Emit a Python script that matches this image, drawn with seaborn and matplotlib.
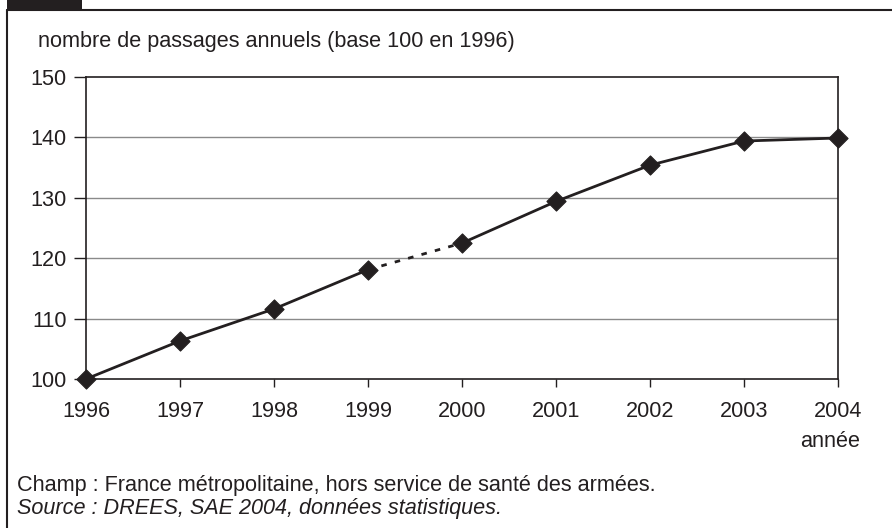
import matplotlib
matplotlib.use("Agg")
import matplotlib.pyplot as plt
from matplotlib.lines import Line2D
from matplotlib.patches import Rectangle
import seaborn as sns
import pandas as pd

years = [1996, 1997, 1998, 1999, 2000, 2001, 2002, 2003, 2004]
values = [100.0, 106.3, 111.6, 118.1, 122.5, 129.4, 135.4, 139.4, 139.9]
gap_years = [1999, 2000]  # segment drawn dashed
y_ticks = [100, 110, 120, 130, 140, 150]

title_text = "nombre de passages annuels (base 100 en 1996)"
xlabel_text = "année"
note1 = "Champ : France métropolitaine, hors service de santé des armées."
note2 = "Source : DREES, SAE 2004, données statistiques."

sns.set_theme(style="white")
plt.rcParams["font.family"] = ["Liberation Sans", "DejaVu Sans"]
ink = "#231f20"
fs = 15.6

df = pd.DataFrame({"annee": years, "valeur": values})
seg1 = df[df["annee"] <= gap_years[0]]
seg2 = df[df["annee"].isin(gap_years)]
seg3 = df[df["annee"] >= gap_years[1]]

fig = plt.figure(figsize=(8.92, 5.28), dpi=100)
ax = fig.add_axes([86 / 892, 1 - 379 / 528, (838 - 86) / 892, (379 - 77) / 528])

for y in y_ticks[1:-1]:
    ax.axhline(y, color="#8a8a8a", lw=1.0, zorder=0)

sns.lineplot(data=seg1, x="annee", y="valeur", ax=ax, color=ink, lw=2.0, zorder=3)
sns.lineplot(data=seg2, x="annee", y="valeur", ax=ax, color=ink, lw=2.0,
             linestyle=(0, (2.0, 3.0)), zorder=3)
sns.lineplot(data=seg3, x="annee", y="valeur", ax=ax, color=ink, lw=2.0, zorder=3)
sns.scatterplot(data=df, x="annee", y="valeur", ax=ax, marker="D", s=95,
                color=ink, edgecolor=ink, linewidth=0.8, zorder=4, clip_on=False)

ax.set_xlim(years[0], years[-1])
ax.set_ylim(y_ticks[0], y_ticks[-1])
ax.set_xticks(years)
ax.set_xticklabels([str(y) for y in years])
ax.set_yticks(y_ticks)
ax.set_xlabel("")
ax.set_ylabel("")

for side in ["left", "bottom", "top", "right"]:
    ax.spines[side].set_visible(True)
    ax.spines[side].set_color(ink)
    ax.spines[side].set_linewidth(1.2)

ax.tick_params(axis="x", direction="out", length=6, width=1, color=ink,
               pad=10, labelsize=fs, labelcolor=ink, bottom=True)
ax.tick_params(axis="y", direction="out", length=9, width=1, color=ink,
               pad=5, labelsize=fs, labelcolor=ink, left=True)

# outer frame and tab
fig.add_artist(Line2D([7 / 892, 7 / 892], [0, 1 - 10 / 528], color=ink, lw=1.5,
                      transform=fig.transFigure))
fig.add_artist(Line2D([7 / 892, 1], [1 - 10 / 528, 1 - 10 / 528], color=ink, lw=1.5,
                      transform=fig.transFigure))
fig.add_artist(Rectangle((7 / 892, 1 - 10 / 528), 75 / 892, 10 / 528,
                         transform=fig.transFigure, color=ink, lw=0))

fig.text(38 / 892, 1 - 47 / 528, title_text, fontsize=fs, color=ink,
         ha="left", va="baseline")
fig.text(860 / 892, 1 - 447 / 528, xlabel_text, fontsize=fs, color=ink,
         ha="right", va="baseline")
fig.text(17 / 892, 1 - 491.5 / 528, note1, fontsize=fs, color=ink,
         ha="left", va="baseline")
fig.text(17 / 892, 1 - 514 / 528, note2, fontsize=fs, color=ink,
         ha="left", va="baseline", style="italic")

fig.savefig("out.png", dpi=100, facecolor="white")
